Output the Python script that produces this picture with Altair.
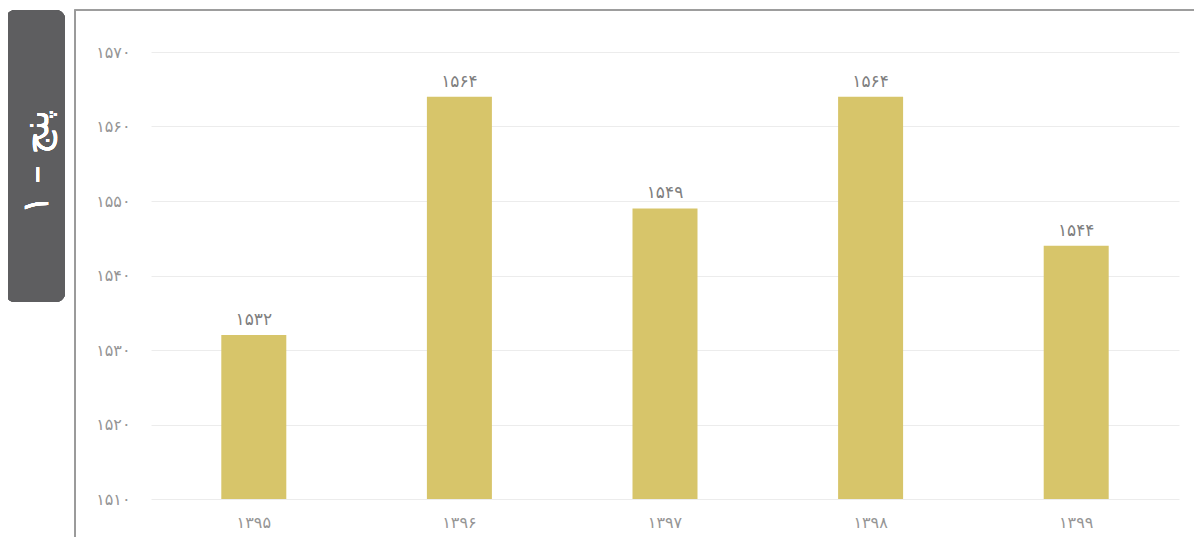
import altair as alt
import pandas as pd

years = ["۱۳۹۵", "۱۳۹۶", "۱۳۹۷", "۱۳۹۸", "۱۳۹۹"]
values = [1532, 1564, 1549, 1564, 1544]
value_labels = ["۱۵۳۲", "۱۵۶۴", "۱۵۴۹", "۱۵۶۴", "۱۵۴۴"]
tick_values = [1510, 1520, 1530, 1540, 1550, 1560, 1570]
tick_labels = ["۱۵۱۰", "۱۵۲۰", "۱۵۳۰", "۱۵۴۰", "۱۵۵۰", "۱۵۶۰", "۱۵۷۰"]
tab_text = "پنج – ۱"

df = pd.DataFrame({"year": years, "value": values, "label": value_labels})

expr = "''"
for v, l in zip(tick_values, tick_labels):
    expr = f"datum.value == {v} ? '{l}' : ({expr})"

FONT = "DejaVu Sans"
GREY = "#959595"

x_enc = alt.X("year:N", sort=None, title=None,
              scale=alt.Scale(paddingInner=0.68, paddingOuter=0.34),
              axis=alt.Axis(labelAngle=0, domain=False, ticks=False,
                            labelPadding=15, labelFont=FONT, labelFontSize=16,
                            labelColor=GREY))
y_enc = alt.Y("value:Q", title=None,
              scale=alt.Scale(domain=[1510, 1570], zero=False, nice=False),
              axis=alt.Axis(values=tick_values, labelExpr=expr, domain=False,
                            ticks=False, labelPadding=21, labelFont=FONT,
                            labelFontSize=16, labelColor=GREY,
                            gridColor="#ececec", gridWidth=1))

bars = alt.Chart(df).mark_bar(color="#d7c56a", width=65, clip=True).encode(x=x_enc, y=y_enc)
texts = alt.Chart(df).mark_text(dy=-15, font=FONT, fontSize=17, color="#7f7f7f").encode(
    x=alt.X("year:N", sort=None), y="value:Q", text="label:N")

frame = alt.Chart(df).mark_rect(fill=None, stroke="#9a9a9a", strokeWidth=1.2).encode(
    x=alt.value(-76), x2=alt.value(1044), y=alt.value(-42), y2=alt.value(560))
tab = alt.Chart(df).mark_rect(color="#5e5e60", cornerRadius=9).encode(
    x=alt.value(-145), x2=alt.value(-86), y=alt.value(-42), y2=alt.value(250))
tab_label = alt.Chart(df).mark_text(text=tab_text, angle=270, font=FONT, fontSize=36,
                                    color="#ffffff").encode(
    x=alt.value(-114), y=alt.value(110))

chart = alt.layer(frame, tab, bars, texts, tab_label).properties(
    width=1028, height=447,
    autosize=alt.AutoSizeParams(type="none"),
    padding={"left": 143, "top": 44, "right": 15, "bottom": 38},
).configure(background="white").configure_view(stroke=None)

chart.save("out.html", embed_options={"renderer": "svg", "actions": False})
